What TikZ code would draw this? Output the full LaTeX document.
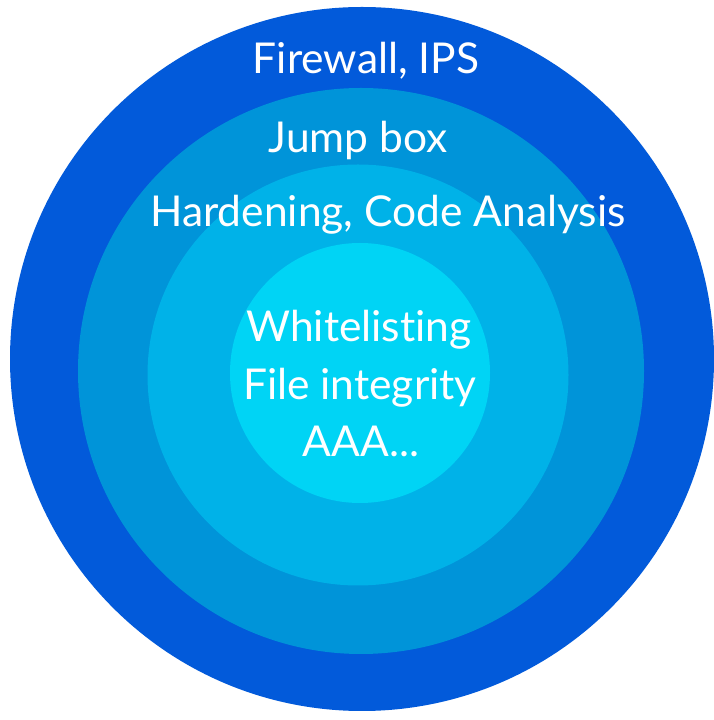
\documentclass[tikz,border=0pt]{standalone}
\usepackage{fontspec}
\setmainfont{Lato}[Ligatures={NoCommon}]
\definecolor{ringA}{RGB}{2,90,218}
\definecolor{ringB}{RGB}{0,148,217}
\definecolor{ringC}{RGB}{0,178,232}
\definecolor{ringD}{RGB}{0,212,245}
\tikzset{
  ring/.style={circle, inner sep=0pt, draw=none},
  layer/.style={text=white, font=\fontsize{42.5}{50}\selectfont, anchor=base, inner sep=0pt}
}
\begin{document}
\begin{tikzpicture}[x=1pt,y=1pt]
  \useasboundingbox (0,0) rectangle (713,720);
  \fill[white] (0,0) rectangle (713,720);

  % Drawing rings, outer to inner
  \node [ring, fill=ringA, minimum size=704pt] (outer) at (362,361) {};%
  \node [ring, fill=ringB, minimum size=566pt] (jump) at (361,349) {};%
  \node [ring, fill=ringC, minimum size=421pt] (hard) at (358,345) {};%
  \node [ring, fill=ringD, minimum size=260pt] (inner) at (360,347) {};%

  % Marking labels
  \node [layer] (fw) at (366,646) {Firewall, IPS};%
  \node [layer] (jb) at (358,567) {Jump box};%
  \node [layer] (hc) at (388,493) {Hardening, Code Analysis};%
  \node [layer] (wl) at (359,378) {Whitelisting};%
  \node [layer] (fi) at (360,320) {File integrity};%
  \node [layer] (aa) at (361,263) {AAA...};%
\end{tikzpicture}
\end{document}
